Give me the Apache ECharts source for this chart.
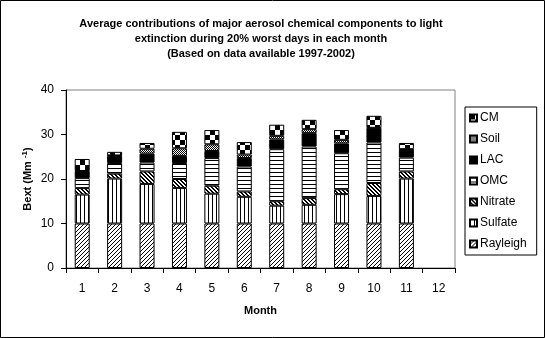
<!DOCTYPE html>
<html><head><meta charset="utf-8">
<script src="https://cdn.jsdelivr.net/npm/echarts@6/dist/echarts.min.js"></script>
<style>html,body{margin:0;padding:0;background:#fff}#c{width:545px;height:338px}</style>
</head><body><div id="c"></div>
<script>
const months = ['1','2','3','4','5','6','7','8','9','10','11','12'];
const rayleigh = [10, 10, 10, 10, 10, 10, 10, 10, 10, 10, 10, null];
const sulfate  = [6.5, 10.1, 8.9, 8.0, 6.7, 6.0, 4.0, 4.2, 6.6, 6.2, 10.1, null];
const nitrate  = [1.45, 1.1, 2.8, 2.0, 1.8, 1.2, 1.0, 1.5, 1.1, 2.9, 1.6, null];
const omc      = [2.25, 2.4, 2.0, 3.6, 6.2, 5.6, 11.7, 11.6, 8.1, 9.1, 3.1, null];
const lac      = [1.5, 1.6, 2.0, 1.6, 1.6, 1.9, 2.2, 3.0, 2.2, 3.2, 1.8, null];
const soil     = [0.1, 0.1, 1.1, 1.7, 1.5, 0.8, 0.8, 0.9, 0.8, 0.1, 0.1, null];
const cm       = [2.7, 0.8, 1.3, 3.7, 3.2, 2.8, 2.5, 2.1, 2.2, 2.7, 1.4, null];
const yTicks = [0, 10, 20, 30, 40];

function pat(w, h, px) {
  const c = document.createElement('canvas');
  c.width = w; c.height = h;
  const x = c.getContext('2d');
  x.fillStyle = '#fff'; x.fillRect(0, 0, w, h);
  x.fillStyle = '#000';
  px(x);
  return { image: c, repeat: 'repeat' };
}
const P = {
  Rayleigh: pat(4, 4, x => { x.fillRect(3,0,1,1); x.fillRect(2,1,1,1); x.fillRect(1,2,1,1); x.fillRect(0,3,1,1); }),
  Sulfate: pat(4, 1, x => { x.fillRect(0,0,1,1); }),
  Nitrate: pat(4, 4, x => { for (let i=0;i<4;i++){ x.fillRect(i,i,1,1); x.fillRect((i+1)%4,i,1,1);} }),
  OMC: pat(1, 4, x => { x.fillRect(0,0,1,1); }),
  LAC: '#000',
  Soil: pat(2, 2, x => { x.fillRect(0,0,1,1); x.fillRect(1,1,1,1); }),
  CM: pat(10, 10, x => { x.fillRect(0,0,5,5); x.fillRect(5,5,5,5); })
};
const FONT = 'Liberation Sans, Arial, sans-serif';
const seriesDefs = [
  ['Rayleigh', rayleigh], ['Sulfate', sulfate], ['Nitrate', nitrate],
  ['OMC', omc], ['LAC', lac], ['Soil', soil], ['CM', cm]
];
const chart = echarts.init(document.getElementById('c'), null, { renderer: 'canvas' });
chart.setOption({
  animation: false,
  backgroundColor: '#fff',
  graphic: [
    { type: 'rect', shape: { x: 0.5, y: 0.5, width: 544, height: 337 }, style: { fill: 'none', stroke: '#000', lineWidth: 1 }, z: -1 },
    { type: 'text', x: 261, y: 16, style: { text: 'Average contributions of major aerosol chemical components to light\nextinction during 20% worst days in each month\n(Based on data available 1997-2002)', textAlign: 'center', font: 'bold 11px ' + FONT, lineHeight: 15, fill: '#000' } }
  ],
  grid: { left: 66, top: 90, width: 389, height: 178, show: true, borderColor: '#808080', borderWidth: 1 },
  legend: {
    orient: 'vertical', left: 465, top: 107,
    data: ['CM','Soil','LAC','OMC','Nitrate','Sulfate','Rayleigh'],
    icon: 'rect', itemWidth: 7, itemHeight: 7, itemGap: 9,
    padding: [5, 10, 5, 4],
    borderColor: '#000', borderWidth: 1,
    textStyle: { fontFamily: FONT, fontSize: 12, color: '#000', padding: [0,0,0,-2] }
  },
  xAxis: {
    type: 'category', data: months,
    name: 'Month', nameLocation: 'middle', nameGap: 37, nameMoveOverlap: false,
    nameTextStyle: { fontFamily: FONT, fontSize: 11, fontWeight: 'bold', color: '#000' },
    axisLine: { lineStyle: { color: '#000', width: 1 } },
    axisTick: { show: true, length: 5, lineStyle: { color: '#000' } },
    axisLabel: { fontFamily: FONT, fontSize: 12, color: '#000', margin: 15 }
  },
  yAxis: {
    type: 'value', min: yTicks[0], max: yTicks[yTicks.length - 1], interval: 10,
    name: 'Bext (Mm {sup|-1})', nameLocation: 'middle', nameGap: 32, nameRotate: 90, nameMoveOverlap: false,
    nameTextStyle: { fontFamily: FONT, fontSize: 11, fontWeight: 'bold', color: '#000',
      rich: { sup: { fontFamily: FONT, fontSize: 8, fontWeight: 'bold', color: '#000', verticalAlign: 'top', padding: [0, 0, 5, 0] } } },
    axisLine: { show: true, lineStyle: { color: '#000', width: 1 } },
    axisTick: { show: true, length: 5, lineStyle: { color: '#000' } },
    axisLabel: { fontFamily: FONT, fontSize: 12, color: '#000', margin: 12 },
    splitLine: { show: false }
  },
  series: seriesDefs.map(([name, data]) => ({
    name, type: 'bar', stack: 'total', data, barWidth: 15,
    itemStyle: { color: P[name], borderColor: '#000', borderWidth: 1 },
    emphasis: { disabled: true }
  }))
});
</script></body></html>
